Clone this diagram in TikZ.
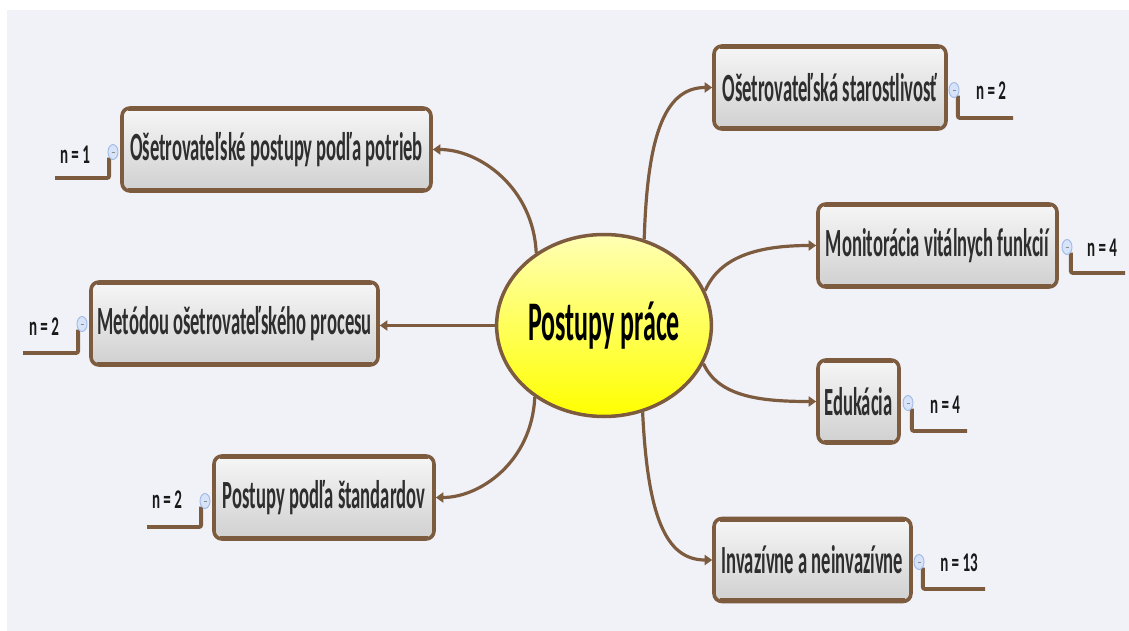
\documentclass[tikz,border=0pt]{standalone}
\usepackage{fontspec}
\setmainfont{Carlito}
\usetikzlibrary{arrows.meta,shapes.geometric}
\pgfdeclarelayer{background}
\pgfsetlayers{background,main}

\definecolor{canvas}{HTML}{F1F2F8}
\definecolor{brn}{HTML}{7D5B3E}
\definecolor{boxtop}{HTML}{F6F6F6}
\definecolor{boxbot}{HTML}{D0D0D0}
\definecolor{ytop}{HTML}{FFFFB4}
\definecolor{ybot}{HTML}{FFFF00}
\definecolor{txt}{HTML}{2E2E2E}
\definecolor{btnfill}{HTML}{D6E3F8}
\definecolor{btndraw}{HTML}{9FB8E4}

% Vertically stretched text, as set by the mind-map tool
\newcommand\tall[1]{\scalebox{1}[2.15]{#1}}
\newcommand\talln[1]{\scalebox{1}[1.8]{#1}}

\begin{document}
\begin{tikzpicture}[x=1pt,y=-1pt,
  core/.style={ellipse, draw=brn, line width=3.5pt, top color=ytop, bottom color=ybot,
    minimum width=210pt, minimum height=182pt, inner sep=0pt,
    font=\fontsize{26}{28}\selectfont\bfseries},
  topic/.style={draw=brn, line width=3.6pt, rounded corners=8pt, top color=boxtop,
    bottom color=boxbot, inner sep=0pt, text=txt, minimum height=83pt,
    font=\fontsize{18.6}{20}\selectfont\bfseries},
  link/.style={draw=brn, line width=3.2pt, -{Triangle[length=7.5pt,width=10pt]}},
  btn/.style={ellipse, draw=btndraw, fill=btnfill, line width=0.9pt,
    minimum width=10pt, minimum height=15pt, inner sep=0pt},
  nlab/.style={inner sep=0pt, text=black!90, font=\fontsize{15}{15}\selectfont\bfseries},
  stem/.style={draw=brn, line width=3.8pt, rounded corners=2pt},
  edge/.style={draw=brn, line width=3pt}
]
\useasboundingbox (0,0) rectangle (1129,631);
\begin{pgfonlayer}{background}
  \fill[white] (0,0) rectangle (1129,631);
  \fill[canvas] (7,10) rectangle (1129,631);
\end{pgfonlayer}

% central topic
\node[core] (c) at (604,325.5) {\tall{Postupy práce}};

% sub-topics
\node[topic, minimum width=309pt] (t1) at (276.5,149.5) {\tall{Ošetrovateľské postupy podľa potrieb}};
\node[topic, minimum width=287pt] (t2) at (234.5,323.5) {\tall{Metódou ošetrovateľského procesu}};
\node[topic, minimum width=220pt] (t3) at (324,497.5) {\tall{Postupy podľa štandardov}};
\node[topic, minimum width=232pt] (t4) at (830,87.5) {\tall{Ošetrovateľská starostlivosť}};
\node[topic, minimum width=239pt] (t5) at (937.5,245.5) {\tall{Monitorácia vitálnych funkcií}};
\node[topic, minimum width=81pt]  (t6) at (858.5,401.5) {\tall{Edukácia}};
\node[topic, minimum width=197pt] (t7) at (812.5,560) {\tall{Invazívne a neinvazívne}};

% heavier top and bottom edges of the boxes
\foreach \b in {t1,t2,t3,t4,t5,t6,t7}{
  \draw[edge] ([xshift=8pt,yshift=-3.5pt]\b.north west) -- ([xshift=-8pt,yshift=-3.5pt]\b.north east);
  \draw[edge] ([xshift=8pt,yshift=3.5pt]\b.south west) -- ([xshift=-8pt,yshift=3.5pt]\b.south east);
}

% collapse buttons, each with its small dash
\foreach \n/\p in {b1/{113,152},b2/{82,324},b3/{205,501},b4/{954,90},b5/{1067,247},b6/{908,403},b7/{919,562}}{
  \node[btn] (\n) at (\p) {};
  \draw[black!45, line width=0.6pt] ([xshift=-1.5pt]\n.center) -- ([xshift=1.5pt]\n.center);
}

% counts
\node[nlab] (n1) at (75,155) {\talln{n = 1}};
\node[nlab] (n2) at (44,327) {\talln{n = 2}};
\node[nlab] (n3) at (167,500) {\talln{n = 2}};
\node[nlab] (n4) at (991,91) {\talln{n = 2}};
\node[nlab] (n5) at (1102,248) {\talln{n = 4}};
\node[nlab] (n6) at (945,405) {\talln{n = 4}};
\node[nlab] (n7) at (959,563) {\talln{n = 13}};

% free ends of the count underlines
\coordinate (e1) at (55,178);
\coordinate (e2) at (23,353);
\coordinate (e3) at (147,527);
\coordinate (e4) at (1013,118);
\coordinate (e5) at (1125,273);
\coordinate (e6) at (967,431);
\coordinate (e7) at (985,589);

\begin{pgfonlayer}{background}
  \draw[stem] (b1.south west) |- (e1);
  \draw[stem] (b2.south west) |- (e2);
  \draw[stem] (b3.south west) |- (e3);
  \draw[stem] (b4.south east) |- (e4);
  \draw[stem] (b5.south east) |- (e5);
  \draw[stem] (b6.south east) |- (e6);
  \draw[stem] (b7.south east) |- (e7);
\end{pgfonlayer}

% connectors from the central topic
\draw[link] (c.133) .. controls +(-3,-65) and +(47,0) .. (t1.east);
\draw[link] (c.west) -- (t2.east |- c.west);
\draw[link] (c.226) .. controls +(-3,65) and +(44,0) .. (t3.east);
\draw[link] (c.65) .. controls +(3,-97) and +(-50,0) .. (t4.west);
\draw[link] (c.19) .. controls +(15,-35) and +(-56,0) .. (t5.west);
\draw[link] (c.-21) .. controls +(15,33) and +(-56,0) .. (t6.west);
\draw[link] (c.-66) .. controls +(5,103) and +(-47,0) .. (t7.west);
\end{tikzpicture}
\end{document}
